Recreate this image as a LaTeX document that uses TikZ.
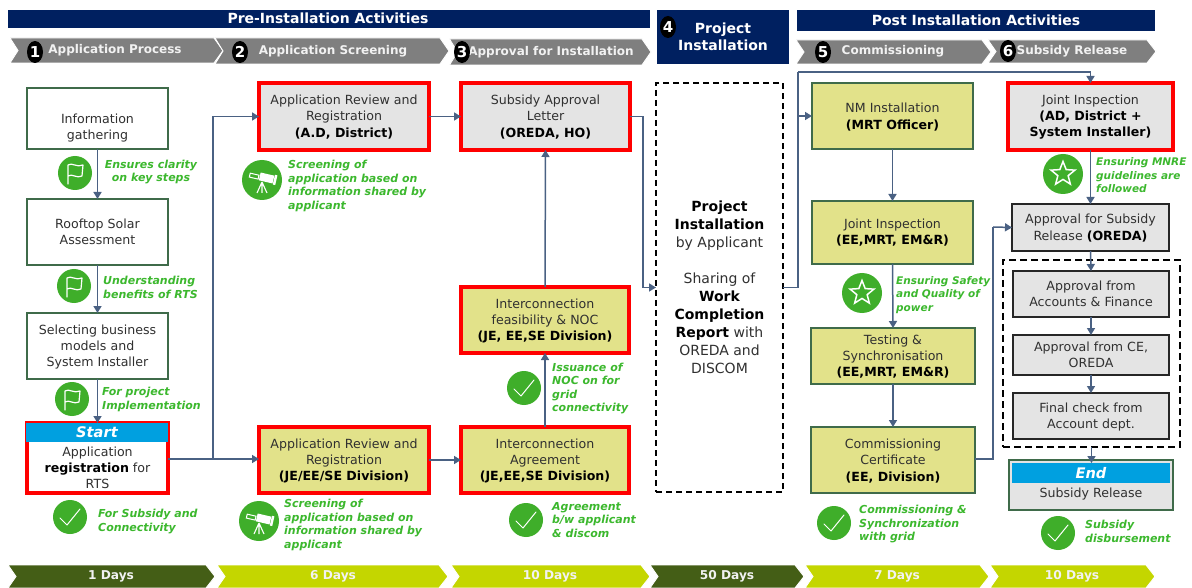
\documentclass[tikz,border=0pt]{standalone}
\usepackage{fontspec}
\setmainfont{DejaVu Sans}
\usetikzlibrary{arrows.meta,shapes.geometric,calc}
\definecolor{navy}{HTML}{002060}
\definecolor{chevgray}{HTML}{7F7F7F}
\definecolor{olivedark}{HTML}{445E16}
\definecolor{limeday}{HTML}{C4D600}
\definecolor{boxyellow}{HTML}{E2E28A}
\definecolor{boxgray}{HTML}{E4E4E4}
\definecolor{edgegreen}{HTML}{3F6B4A}
\definecolor{redline}{HTML}{FF0000}
\definecolor{connector}{HTML}{4A6183}
\definecolor{icongreen}{HTML}{3FAE2A}
\definecolor{labgreen}{HTML}{3CB82E}
\definecolor{skyhead}{HTML}{00A0E0}
\definecolor{bodytext}{HTML}{303030}
\newcommand\BoxN[8][0]{%
  \pgfmathsetmacro\cxx{(#4+#6)/2}\pgfmathsetmacro\cyy{(#5+#7)/2}%
  \pgfmathsetmacro\wdd{#6-#4}\pgfmathsetmacro\htt{#7-#5}\pgfmathsetmacro\off{2*#1}%
  \node[#3,inner sep=0pt,outer sep=0pt] (#2) at (\cxx,\cyy)
    {\parbox[c][\htt pt][c]{\wdd pt}{\centering\fontsize{12.6}{16.3}\selectfont\color{bodytext}\vspace*{\off pt}#8}};%
}
\newcommand\Chev[6]{% name x1 x2 y1 y2 colour
  \pgfmathsetmacro\shh{#3-9}\pgfmathsetmacro\nch{#2+8}\pgfmathsetmacro\mdd{(#4+#5)/2}%
  \filldraw[fill=#6,draw=white,line width=0.9pt,line join=miter] (#2,#4) -- (\shh,#4) -- (#3,\mdd) -- (\shh,#5) -- (#2,#5) -- (\nch,\mdd) -- cycle;%
}
\newcommand\Bld[1]{{\bfseries\color{black}#1}}
\tikzset{
  x=1pt,y=-1pt,
  plainbox/.style={draw=edgegreen,line width=1.8pt,fill=white},
  yellowbox/.style={draw=edgegreen,line width=1.8pt,fill=boxyellow},
  redgray/.style={draw=redline,line width=3.2pt,fill=boxgray},
  redyellow/.style={draw=redline,line width=3.2pt,fill=boxyellow},
  redwhite/.style={draw=redline,line width=3.2pt,fill=white},
  darkgray/.style={draw=black!85,line width=2.2pt,fill=boxgray},
  greengray/.style={draw=edgegreen,line width=1.8pt,fill=boxgray},
  dashbox/.style={draw=black,line width=1.9pt,dash pattern=on 7pt off 4pt},
  flow/.style={draw=connector,line width=1.5pt,-{Triangle[length=7pt,width=8pt]}},
  flowplain/.style={draw=connector,line width=1.5pt},
  lab/.style={font=\fontsize{11}{13.5}\selectfont\bfseries\itshape,text=labgreen,inner sep=0pt,align=left,anchor=west},
  labtight/.style={lab,font=\fontsize{10.5}{13.5}\selectfont\bfseries\itshape},
  whitehead/.style={font=\fontsize{14}{17}\selectfont\bfseries,text=white,inner sep=0pt,align=center},
  chevtext/.style={font=\fontsize{12}{13}\selectfont\bfseries,text=white!95!black,inner sep=0pt},
  daytext/.style={font=\fontsize{12.2}{13}\selectfont\bfseries,text=white!95!black,inner sep=0pt},
  numdot/.style={ellipse,fill=black,text=white,minimum width=16pt,minimum height=22pt,inner sep=0pt,font=\fontsize{15}{16}\selectfont\bfseries},
  icondot/.style={circle,fill=icongreen,inner sep=0pt,minimum size=#1},
  iconline/.style={draw=white,line width=1.2pt,line join=round,line cap=round},
  headtag/.style={font=\fontsize{14.6}{15}\selectfont\bfseries\itshape,text=white,inner sep=0pt},
  pics/flagicon/.style={code={
    \node[icondot=34pt] (-c) at (0,0) {};
    \draw[iconline] (-7,11) -- (-7,-8) .. controls (-3,-11) and (2,-5) .. (8,-8)
      -- (7,3) .. controls (2,6) and (-3,0) .. (-7,3);
  }},
  pics/checkicon/.style={code={
    \node[icondot=34pt] (-c) at (0,0) {};
    \draw[iconline,line width=1pt] (-10,1) -- (-3,8) -- (10,-8);
  }},
  pics/staricon/.style={code={
    \node[icondot=40pt] (-c) at (0,0) {};
    \node[star,star points=5,star point ratio=2.3,draw=white,line width=1.5pt,minimum size=25pt,inner sep=0pt] (-s) at (0,0) {};
  }},
  pics/scopeicon/.style={code={
    \node[icondot=40pt] (-c) at (0,0) {};
    \begin{scope}[rotate=-13]
      \fill[white] (-3,-7) rectangle (11,1);
      \fill[white] (11.5,-8) rectangle (14,2);
      \draw[white,line width=1pt] (-13,-4) rectangle (-4,0);
    \end{scope}
    \draw[white,line width=1.1pt] (0,2) -- (-5,13) (0,2) -- (0,13) (0,2) -- (5,13);
  }},
}
\begin{document}
\begin{tikzpicture}
\useasboundingbox (0,0) rectangle (1192,588);
\fill[white] (0,0) rectangle (1192,588);

% banners
\fill[navy] (8,10) rectangle (650,28);
\node[whitehead] (pretitle) at (328,18.5) {Pre-Installation Activities};
\fill[navy] (657,10) rectangle (789,64);
\node[whitehead] (projtitle) at (723,36.5) {Project\\Installation};
\fill[navy] (797,10) rectangle (1155,31);
\node[whitehead] (posttitle) at (976,20.5) {Post Installation Activities};

% header chevrons
\Chev{c1}{10}{223}{38}{63}{chevgray}
\Chev{c2}{215}{449}{38}{64}{chevgray}
\Chev{c3}{449.5}{651}{39}{65}{chevgray}
\Chev{c5}{796}{991}{40}{64}{chevgray}
\Chev{c6}{988}{1156}{40}{63}{chevgray}
\node[chevtext] (t1) at (115,50) {Application Process};
\node[chevtext] (t2) at (333,51) {Application Screening};
\node[chevtext] (t3) at (551,52) {Approval for Installation};
\node[chevtext] (t5) at (893,51.5) {Commissioning};
\node[chevtext] (t6) at (1072,51) {Subsidy Release};
\node[numdot] (n1) at (35,52) {1};
\node[numdot] (n2) at (240,52) {2};
\node[numdot] (n3) at (462,52) {3};
\node[numdot] (n4) at (668,27) {4};
\node[numdot] (n5) at (823,52) {5};
\node[numdot] (n6) at (1008,51) {6};

% day chevrons
\Chev{d1}{8}{215}{565}{588}{olivedark}
\Chev{d2}{217}{448}{565}{588}{limeday}
\Chev{d3}{451}{650}{565}{588}{limeday}
\Chev{d4}{650}{804}{565}{588}{olivedark}
\Chev{d5}{805}{989}{565}{588}{limeday}
\Chev{d6}{990}{1155}{565}{588}{limeday}
\node[daytext] (dt1) at (111,576.5) {1 Days};
\node[daytext] (dt2) at (333,576.5) {6 Days};
\node[daytext] (dt3) at (550,576.5) {10 Days};
\node[daytext] (dt4) at (727,576.5) {50 Days};
\node[daytext] (dt5) at (897,576.5) {7 Days};
\node[daytext] (dt6) at (1072,576.5) {10 Days};

% column 1
\BoxN[9.5]{info}{plainbox}{27}{88}{168}{149}{Information\\gathering}
\BoxN{roof}{plainbox}{27}{199}{168}{265}{Rooftop Solar\\Assessment}
\BoxN[1]{sel}{plainbox}{27}{313}{168}{379}{Selecting business\\models and\\System Installer}
\BoxN[10]{start}{redwhite}{27}{423}{168}{493}{Application\\\Bld{registration} for\\RTS}
\fill[skyhead] (26,423) rectangle (168,442);
\node[headtag] (starttxt) at (97,432) {Start};

% column 2
\BoxN[0.5]{revt}{redgray}{259}{83}{429}{150}{Application Review and\\Registration\\\Bld{(A.D, District)}}
\BoxN[1]{revb}{redyellow}{259}{427}{429}{493}{Application Review and\\Registration\\\Bld{(JE/EE/SE Division)}}

% column 3
\BoxN[0.5]{appr}{redgray}{461}{83}{630}{150}{Subsidy Approval\\Letter\\\Bld{(OREDA, HO)}}
\BoxN[1]{feas}{redyellow}{461}{287}{629}{353}{Interconnection\\feasibility \& NOC\\\Bld{(JE, EE,SE Division)}}
\BoxN[1]{agree}{redyellow}{461}{427}{629}{493}{Interconnection\\Agreement\\\Bld{(JE,EE,SE Division)}}

% project installation
\node[dashbox,inner sep=0pt,outer sep=0pt,minimum width=127pt,minimum height=409pt,dash pattern=on 6pt off 4pt] (proj) at (719.5,287.5)
  {\parbox[c]{125pt}{\centering\fontsize{14}{18}\selectfont\color{bodytext}\Bld{Project}\\\Bld{Installation}\\by Applicant\\[18pt]Sharing of\\\Bld{Work}\\\Bld{Completion}\\\Bld{Report} with\\OREDA and\\DISCOM}};

% column 5
\BoxN[1]{nm}{yellowbox}{812}{83}{973}{149}{NM Installation\\\Bld{(MRT Officer)}}
\BoxN{ji}{yellowbox}{812}{201}{973}{264}{Joint Inspection\\\Bld{(EE,MRT, EM\&R)}}
\BoxN[0.5]{test}{yellowbox}{811}{328}{975}{384}{Testing \&\\Synchronisation\\\Bld{(EE,MRT, EM\&R)}}
\BoxN[1]{cert}{yellowbox}{811}{427}{975}{493}{Commissioning\\Certificate\\\Bld{(EE, Division)}}

% column 6
\BoxN[0.5]{jir}{redgray}{1008}{83}{1173}{150}{Joint Inspection\\\Bld{(AD, District +}\\\Bld{System Installer)}}
\BoxN[0.5]{sub}{darkgray}{1012}{204}{1169}{251}{Approval for Subsidy\\Release \Bld{(OREDA)}}
\node[dashbox,minimum width=177pt,minimum height=187pt,inner sep=0pt,outer sep=0pt] (dgroup) at (1091.5,353.5) {};
\BoxN{acc}{darkgray}{1013}{271}{1169}{317}{Approval from\\Accounts \& Finance}
\BoxN{ce}{darkgray}{1013}{335}{1169}{375}{Approval from CE,\\OREDA}
\BoxN[1]{fin}{darkgray}{1013}{393}{1169}{439}{Final check from\\Account dept.}
\BoxN[9]{endb}{greengray}{1009}{460}{1173}{510}{Subsidy Release}
\fill[skyhead] (1012,463) rectangle (1170,483);
\node[headtag] (endtxt) at (1091,473) {End};

% connectors
\draw[flow] (info.south) -- (roof.north);
\draw[flow] (roof.south) -- (sel.north);
\draw[flow] (sel.south) -- (start.north);
\coordinate (stout) at (168,459);
\coordinate (branch1) at (213,459);
\draw[flow] (stout) -- (stout -| revb.west);
\draw[flow] (branch1) |- (revt.west);
\draw[flow] (revt.east) -- (appr.west);
\draw[flow] (revb.east) -- (agree.west);
\coordinate (apprbend) at (643,116.5);
\coordinate (projin) at (proj.west);
\draw[flow] (appr.east) -- (apprbend) |- (projin);
\draw[flow] (feas.north) -- (appr.south);
\draw[flow] (agree.north) -- (feas.south);
\coordinate (projbend) at (798,287.5);
\coordinate (toptrack) at (798,72);
\coordinate (nmbranch) at (798,116);
\draw[flowplain] (proj.east) -- (projbend) -- (toptrack);
\draw[flow] (toptrack) -| (jir.north);
\draw[flow] (nmbranch) -- (nm.west);
\draw[flow] (nm.south) -- (ji.north);
\draw[flow] (ji.south) -- (test.north);
\draw[flow] (test.south) -- (cert.north);
\coordinate (certout) at (975,459);
\coordinate (certbend) at (993,459);
\coordinate (subin) at (993,227);
\draw[flowplain] (certout) -- (certbend) -- (subin);
\draw[flow] (subin) -- (sub.west);
\draw[flow] (jir.south) -- (sub.north);
\draw[flow] (sub.south) -- (acc.north);
\draw[flow] (acc.south) -- (ce.north);
\draw[flow] (ce.south) -- (fin.north);
\coordinate (endin) at (1091.5,463);
\draw[flow] (dgroup.south) -- (endin);

% icons
\pic (f1) at (75,173) {flagicon};
\pic (f2) at (74,286) {flagicon};
\pic (f3) at (72,399) {flagicon};
\pic (k1) at (70,517) {checkicon};
\pic (s1) at (262,180) {scopeicon};
\pic (s2) at (259,521) {scopeicon};
\pic (k2) at (524,388) {checkicon};
\pic (k3) at (526,520) {checkicon};
\pic (a1) at (1063,174) {staricon};
\pic (a2) at (862,293) {staricon};
\pic (k4) at (834,523) {checkicon};
\pic (k5) at (1058,533) {checkicon};

% green labels
\node[lab,align=center,anchor=center] (l1) at (151,172) {Ensures clarity\\on key steps};
\node[lab] (l2) at (103,287.5) {Understanding\\benefits of RTS};
\node[lab] (l3) at (102,399.5) {For project\\Implementation};
\node[lab] (l4) at (98,521.5) {For Subsidy and\\Connectivity};
\node[lab] (l5) at (288,186) {Screening of\\application based on\\information shared by\\applicant};
\node[lab] (l6) at (284,525) {Screening of\\application based on\\information shared by\\applicant};
\node[lab] (l7) at (552,388.5) {Issuance of\\NOC on for\\grid\\connectivity};
\node[lab] (l8) at (552,520) {Agreement\\b/w applicant\\\& discom};
\node[labtight] (l9) at (896,295) {Ensuring Safety\\and Quality of\\power};
\node[lab] (l10) at (859,524.5) {Commissioning \&\\Synchronization\\with grid};
\node[labtight] (l11) at (1096,175.5) {Ensuring MNRE\\guidelines are\\followed};
\node[lab] (l12) at (1085,531.5) {Subsidy\\disbursement};
\end{tikzpicture}
\end{document}
